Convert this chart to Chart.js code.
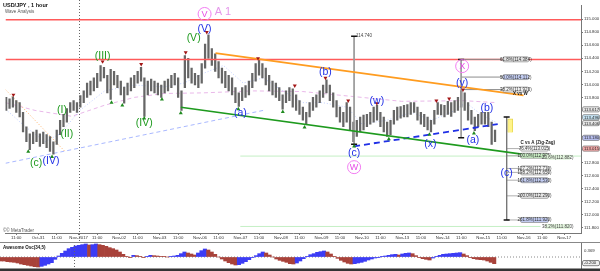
<!DOCTYPE html>
<html>
<head>
<meta charset="utf-8">
<script src="https://cdn.jsdelivr.net/npm/chart.js@4.4.1/dist/chart.umd.min.js"></script>
<style>
  html, body { margin: 0; padding: 0; background: #fff; }
  canvas { display: block; }
</style>
</head>
<body>
<canvas id="price" width="600" height="242"></canvas>
<canvas id="osc" width="600" height="29"></canvas>
<script>
// USD/JPY 1 hour. x = trading hours since Oct-30 00:00 (weekend removed)
var X_MIN = 4.6, X_MAX = 346;
var Y_MIN = 111.72, Y_MAX = 115.21;

var tickHours = [11, 24, 35, 48, 59, 72, 83, 96, 107, 120, 131, 144, 155, 168, 179, 192, 203, 216, 227, 240, 251, 264, 275, 288, 299, 312, 323, 336];
var tickLabels = ['11:00', 'Oct-31', '11:00', 'Nov-2017', '11:00', 'Nov-02', '11:00', 'Nov-03', '11:00', 'Nov-06', '11:00', 'Nov-07', '11:00', 'Nov-08',
  '11:00', 'Nov-09', '11:00', 'Nov-10', '11:00', 'Nov-13', '11:00', 'Nov-14', '11:00', 'Nov-15', '11:00', 'Nov-16', '11:00', 'Nov-17'];
var priceTicks = [111.8, 112.0, 112.2, 112.4, 112.6, 112.8, 113.0, 113.2, 113.4, 113.6, 113.8, 114.0, 114.2, 114.4, 114.6, 114.8, 115.0];
var monthStartHour = 48;

// price bars, one every 2 hours
var firstBarHour = 5, barStep = 2;
var barHighs = [113.80, 113.78, 113.81, 113.75, 113.72, 113.57, 113.35, 113.24, 113.27, 113.30, 113.24, 113.27, 113.23, 113.20, 113.12, 113.30,
  113.45, 113.54, 113.63, 113.72, 113.75, 113.72, 113.83, 113.90, 114.02, 114.05, 114.10, 114.17, 114.29, 114.26, 114.14, 114.23,
  114.20, 114.14, 114.05, 113.96, 114.02, 114.10, 114.14, 114.20, 114.26, 114.10, 114.05, 114.08, 114.05, 114.02, 113.99, 114.05,
  114.08, 114.14, 114.17, 114.10, 113.90, 114.44, 114.40, 114.25, 114.17, 114.14, 114.32, 114.62, 114.76, 114.55, 114.47, 114.35,
  114.25, 114.20, 114.14, 114.10, 113.95, 113.87, 113.95, 113.98, 114.05, 114.17, 114.32, 114.37, 114.32, 114.25, 114.14, 114.05,
  114.02, 113.95, 113.84, 113.90, 113.95, 113.93, 113.84, 113.75, 113.65, 113.57, 113.72, 113.80, 113.84, 113.90, 113.99, 114.07,
  113.99, 113.87, 113.75, 113.65, 113.57, 113.72, 113.65, 113.42, 113.45, 113.50, 113.53, 113.54, 113.57, 113.65, 113.68, 113.57,
  113.50, 113.42, 113.45, 113.60, 113.65, 113.66, 113.68, 113.69, 113.72, 113.72, 113.65, 113.57, 113.54, 113.50, 113.45, 113.60,
  113.72, 113.69, 113.68, 113.74, 113.72, 113.75, 113.80, 113.90, 113.87, 113.72, 113.60, 113.50, 113.54, 113.57, 113.57, 113.57,
  113.42, 113.30];
var barLows = [113.60, 113.63, 113.65, 113.57, 113.50, 113.27, 113.12, 113.00, 113.09, 113.12, 113.05, 113.09, 113.03, 112.97, 112.93, 113.08,
  113.23, 113.35, 113.42, 113.57, 113.60, 113.57, 113.65, 113.72, 113.80, 113.84, 113.90, 113.95, 114.05, 114.10, 113.87, 113.77,
  113.99, 113.95, 113.84, 113.71, 113.84, 113.90, 113.95, 114.02, 114.05, 113.51, 113.84, 113.90, 113.87, 113.84, 113.80, 113.87,
  113.90, 113.95, 113.99, 113.80, 113.60, 113.95, 114.10, 114.02, 113.99, 113.95, 114.02, 114.25, 114.40, 114.29, 114.20, 114.10,
  114.02, 113.95, 113.90, 113.84, 113.72, 113.66, 113.75, 113.80, 113.84, 113.95, 114.05, 114.14, 114.10, 113.99, 113.90, 113.84,
  113.80, 113.75, 113.62, 113.72, 113.75, 113.65, 113.60, 113.54, 113.45, 113.38, 113.50, 113.60, 113.65, 113.72, 113.80, 113.87,
  113.75, 113.65, 113.50, 113.42, 113.35, 113.42, 113.30, 113.12, 113.20, 113.27, 113.30, 113.35, 113.39, 113.42, 113.45, 113.35,
  113.27, 113.20, 113.23, 113.39, 113.45, 113.48, 113.50, 113.50, 113.54, 113.57, 113.45, 113.39, 113.35, 113.30, 113.27, 113.39,
  113.54, 113.53, 113.50, 113.54, 113.51, 113.57, 113.60, 113.65, 113.60, 113.45, 113.39, 113.29, 113.35, 113.39, 113.39, 113.35,
  113.08, 113.12];
// Awesome Oscillator (34,5), same bars
var aoValues = [-0.12, -0.12, -0.14, -0.15, -0.16, -0.18, -0.21, -0.23, -0.25, -0.27, -0.29, -0.30, -0.28, -0.25, -0.21, -0.17,
  -0.07, 0.03, 0.11, 0.18, 0.25, 0.29, 0.33, 0.35, 0.37, 0.39, 0.36, 0.37, 0.39, 0.37, 0.35, 0.32,
  0.28, 0.25, 0.21, 0.15, 0.08, 0.02, -0.02, 0.05, 0.04, 0.02, -0.02, 0.01, 0.05, 0.04, 0.03, 0.02,
  0.01, 0.00, 0.02, 0.03, 0.05, 0.10, 0.15, 0.12, 0.09, 0.06, 0.12, 0.19, 0.24, 0.21, 0.15, 0.08,
  0.00, -0.06, -0.12, -0.17, -0.21, -0.24, -0.23, -0.19, -0.14, -0.08, -0.02, 0.04, 0.10, 0.15, 0.12, 0.06,
  0.00, -0.06, -0.10, -0.13, -0.16, -0.20, -0.21, -0.18, -0.12, -0.05, 0.01, 0.07, 0.10, 0.14, 0.16, 0.18,
  0.15, 0.09, 0.02, -0.04, -0.10, -0.15, -0.19, -0.21, -0.20, -0.18, -0.16, -0.13, -0.09, -0.06, -0.03, -0.01,
  0.01, 0.03, 0.05, 0.07, 0.08, 0.06, 0.09, 0.11, 0.12, 0.10, 0.04, -0.02, -0.05, -0.07, -0.09, -0.03,
  0.01, 0.05, 0.08, 0.09, 0.10, 0.11, 0.12, 0.13, 0.09, 0.04, -0.02, -0.05, -0.07, -0.08, -0.09, -0.12,
  -0.16, -0.20];

// swing markers
var topHours = [9.3, 62.2, 85.1, 111.5, 124, 154.4, 176.2, 194.4, 207.9, 224.9, 260.2, 267.8, 276];
var topPrices = [113.84, 114.35, 114.31, 114.49, 114.80, 114.40, 113.98, 114.10, 113.75, 113.71, 113.75, 113.78, 113.92];
var bottomHours = [18.1, 32.2, 67.5, 73.9, 86.9, 97.4, 108.6, 142.7, 169.1, 182, 211.4, 232, 256.1, 282.5];
var bottomPrices = [112.97, 112.89, 113.72, 113.68, 113.48, 113.77, 113.56, 113.62, 113.58, 113.34, 113.05, 113.16, 113.23, 113.25];

// moving averages
var fastMaHours = [4.6, 16.4, 28.1, 36.9, 48.7, 63.4, 81, 98.6, 110.4, 122.1, 133.9, 145.6, 157.4, 169.1, 180.9, 192.6, 207.3, 216.1, 230.8, 245.5, 257.3, 269, 277.8, 286.6, 295.4];
var fastMa = [113.62, 113.35, 113.12, 113.24, 113.60, 113.90, 113.99, 113.96, 114.02, 114.17, 114.29, 114.02, 114.10, 113.90, 113.72, 113.72, 113.65, 113.39, 113.45, 113.57, 113.45, 113.57, 113.72, 113.54, 113.42];
var slowMaHours = [4.6, 22.2, 44, 63.4, 81, 98.6, 122.1, 151.5, 180.9, 204.4, 239.6, 276.6, 295.4];
var slowMa = [113.72, 113.60, 113.51, 113.68, 113.80, 113.86, 113.87, 113.90, 113.89, 113.83, 113.74, 113.75, 113.72];

// drawn lines
var redLevels = [114.99, 114.38];
var greenTrendHours = [108.6, 324.8], greenTrend = [113.65, 112.88];
var orangeTrendHours = [129.2, 311.9], orangeTrend = [114.48, 113.83];
var orangeDotHours = [4.6, 39.9], orangeDot = [113.92, 112.97];
var blueDashHours = [211.4, 296.6], blueDash = [113.05, 113.39];
var faintBlueHours = [4.6, 157.4], faintBlue = [112.79, 113.60];
var fibLevels = [112.90, 111.82], fibLevelStart = 143.9, fibLevelEnd = [346, 322];

// measuring tools
var measureHours = [211.4, 274.9, 301.9];
var measureTop = [114.74, 114.38, 113.50];
var measureBottom = [113.08, 113.18, 111.92];
var targetHour = 304, targetZone = [113.26, 113.47];

// fib labels
var topFibPct = ['61.8%', '50.0%', '38.2%'];
var topFibPrice = [114.384, 114.112, 113.920];
var topFibFill = ['#e6e6e6', '#c3cdf3', '#f4f4f4'];
var projPct = ['76.4%', '100.0%', '127.2%', '138.2%', '161.8%', '200.0%', '261.8%'];
var projPrice = [113.015, 112.905, 112.710, 112.650, 112.530, 112.290, 111.920];
var projFill = ['#f4f4f4', '#c9efc4', '#f4f4f4', '#f4f4f4', '#c3cdf3', '#e6e6e6', '#c3cdf3'];
var sidePct = ['23.6%', '38.2%'];
var sidePrice = [112.882, 111.820];

// wave counts
var GREEN = '#1e9a1e', BLUE = '#2030e6', PINK = '#e64de6';
var waveText = ['(c)', '(IV)', '(I)', '(II)', '(III)', '(IV)', '(V)', '(V)', '(a)', '(b)', '(c)', '(w)', '(x)', '(y)', '(a)', '(b)', '(c)'];
var waveHour = [22.8, 31.6, 38.1, 41, 62.2, 86.9, 116.2, 122.7, 143.9, 194.4, 211.4, 224.9, 256.7, 275.5, 281.9, 290.2, 301.9];
var wavePrice = [112.79, 112.82, 113.60, 113.24, 114.43, 113.41, 114.71, 114.85, 113.56, 114.19, 112.95, 113.75, 113.09, 114.02, 113.15, 113.63, 112.64];
var waveColor = [GREEN, BLUE, GREEN, GREEN, GREEN, GREEN, GREEN, BLUE, BLUE, BLUE, BLUE, BLUE, BLUE, BLUE, BLUE, BLUE, BLUE];
var circleText = ['V', 'W', 'X'];
var circleHour = [122.7, 211.4, 275.5];
var circlePrice = [115.08, 112.73, 114.28];

// price boxes on the right axis
var axisMarkPrice = [113.617, 113.496, 113.406, 113.180, 113.015];
var axisMarkFill = ['#e6e6e6', '#c5e3f3', '#e6e6e6', '#b8bff0', '#f2a8a8'];

Chart.defaults.font.family = '"Liberation Sans", Arial, sans-serif';

var barHours = barHighs.map(function (v, i) { return firstBarHour + i * barStep; });

function pts(hours, values) {
  return hours.map(function (h, i) { return { x: h, y: values[i] }; });
}

function lineSet(hours, values, color, width, dash, order) {
  return {
    type: 'line', data: pts(hours, values), borderColor: color, borderWidth: width,
    borderDash: dash || [], pointRadius: 0, fill: false, order: order || 3
  };
}

function box(ctx, x, y, w, h, fill, stroke) {
  ctx.beginPath();
  ctx.roundRect(x, y, w, h, 1.5);
  ctx.fillStyle = fill;
  ctx.fill();
  ctx.strokeStyle = stroke;
  ctx.lineWidth = 0.7;
  ctx.stroke();
}

function monthLine(chart) {
  var ctx = chart.ctx;
  var x = Math.round(chart.scales.x.getPixelForValue(monthStartHour)) + 0.5;
  ctx.save();
  ctx.strokeStyle = '#666';
  ctx.lineWidth = 1;
  ctx.setLineDash([1, 2]);
  ctx.beginPath();
  ctx.moveTo(x, 0);
  ctx.lineTo(x, chart.height);
  ctx.stroke();
  ctx.restore();
}

var priceAnnotations = {
  id: 'priceAnnotations',
  afterDatasetsDraw: function (chart) {
    var ctx = chart.ctx, xs = chart.scales.x, ys = chart.scales.y;
    var px = function (h) { return xs.getPixelForValue(h); };
    var py = function (p) { return ys.getPixelForValue(p); };
    monthLine(chart);
    ctx.save();
    ctx.textBaseline = 'middle';

    // wave counts
    ctx.textAlign = 'center';
    ctx.font = '10.5px "Liberation Sans"';
    waveText.forEach(function (t, i) {
      ctx.fillStyle = waveColor[i];
      ctx.fillText(t, px(waveHour[i]), py(wavePrice[i]));
    });
    circleText.forEach(function (t, i) {
      var x = px(circleHour[i]), y = py(circlePrice[i]);
      ctx.beginPath();
      ctx.arc(x, y, 6.5, 0, Math.PI * 2);
      ctx.strokeStyle = '#f27cf2';
      ctx.lineWidth = 1;
      ctx.stroke();
      ctx.fillStyle = PINK;
      ctx.font = '9px "Liberation Sans"';
      ctx.fillText(t, x, y + 0.5);
    });
    ctx.fillStyle = '#e596ea';
    ctx.font = '11px "Liberation Sans"';
    ctx.fillText('A 1', px(133.6), py(115.11));

    // fib boxes
    ctx.font = '4.5px "Liberation Sans"';
    topFibPct.forEach(function (t, i) {
      var y = py(topFibPrice[i]);
      box(ctx, px(299.6), y - 2.5, 26, 5, topFibFill[i], '#888');
      ctx.fillStyle = '#333';
      ctx.fillText(t + '(' + topFibPrice[i].toFixed(3) + ')', px(299.6) + 13, y + 0.3);
    });
    projPct.forEach(function (t, i) {
      var y = py(projPrice[i]);
      box(ctx, px(310.1), y - 2.5, 28, 5, projFill[i], '#888');
      ctx.fillStyle = '#333';
      ctx.fillText(t + '(' + projPrice[i].toFixed(3) + ')', px(310.1) + 14, y + 0.3);
    });
    sidePct.forEach(function (t, i) {
      var y = py(sidePrice[i]);
      ctx.fillStyle = 'rgba(225,245,220,0.9)';
      ctx.fillRect(px(324.8), y - 2.5, 25, 5);
      ctx.fillStyle = '#444';
      ctx.fillText(t + '(' + sidePrice[i].toFixed(3) + ')', px(324.8) + 12.5, y + 0.3);
    });
    ctx.textAlign = 'left';
    ctx.font = 'bold 4.5px "Liberation Sans"';
    ctx.fillStyle = '#222';
    ctx.fillText('C vs A (Zig-Zag)', px(310.1), py(113.105));
    ctx.fillText('X vs W', px(305.6), py(113.85));
    ctx.font = '4.5px "Liberation Sans"';
    ctx.fillStyle = '#444';
    ctx.fillText(measureTop[0].toFixed(3), px(measureHours[0]) + 2, py(measureTop[0]));

    // right axis price boxes
    ctx.textAlign = 'left';
    axisMarkPrice.forEach(function (p, i) {
      var y = py(p);
      box(ctx, chart.chartArea.right + 1.5, y - 2.6, 17, 5.2, axisMarkFill[i], '#777');
      ctx.fillStyle = '#222';
      ctx.font = '4.3px "Liberation Sans"';
      ctx.fillText(p.toFixed(3), chart.chartArea.right + 3, y + 0.3);
    });

    // titles
    ctx.fillStyle = '#111';
    ctx.font = 'bold 5.5px "Liberation Sans"';
    ctx.fillText('USD/JPY , 1 hour', 3, 5);
    ctx.fillStyle = '#555';
    ctx.font = '4.5px "Liberation Sans"';
    ctx.fillText('Wave Analysis', 5, 12);
    ctx.fillText('\u00a9\u00a9 MetaTrader', 3, 231);
    ctx.restore();
  }
};

var datasets = [
  { type: 'line', showLine: false, data: pts(topHours, topPrices), pointStyle: 'triangle', rotation: 180,
    pointRadius: 2.3, pointBackgroundColor: '#a31515', pointBorderColor: '#a31515', pointBorderWidth: 0, order: 1 },
  { type: 'line', showLine: false, data: pts(bottomHours, bottomPrices), pointStyle: 'triangle',
    pointRadius: 2.3, pointBackgroundColor: '#1f8a1f', pointBorderColor: '#1f8a1f', pointBorderWidth: 0, order: 1 },
  lineSet(greenTrendHours, greenTrend, '#1e9a1e', 1.6, null, 2),
  lineSet(orangeTrendHours, orangeTrend, '#ff9c1f', 1.8, null, 2),
  lineSet(blueDashHours, blueDash, '#2030e6', 1.8, [6, 4], 2),
  lineSet(orangeDotHours, orangeDot, '#ffb066', 1, [1, 2], 6),
  lineSet(faintBlueHours, faintBlue, 'rgba(140,160,255,0.75)', 1, [4, 3], 6),
  lineSet(fastMaHours, fastMa, 'rgba(150,175,255,0.6)', 1, [1, 2], 6),
  lineSet(slowMaHours, slowMa, 'rgba(225,160,225,0.75)', 1, [4, 3], 6),
  lineSet([X_MIN, X_MAX], [redLevels[0], redLevels[0]], '#ff5a5a', 1.5, null, 3),
  lineSet([X_MIN, X_MAX], [redLevels[1], redLevels[1]], '#ff5a5a', 1.5, null, 3),
  { type: 'bar', data: barHours.map(function (h, i) { return { x: h, y: [barLows[i], barHighs[i]] }; }),
    backgroundColor: '#666666', barThickness: 1.6, grouped: false, order: 4 },
  { type: 'bar', data: [{ x: targetHour, y: targetZone }], backgroundColor: '#fff38a', borderColor: '#e6d64f',
    borderWidth: 0.8, barThickness: 5, grouped: false, order: 3 }
];
fibLevels.forEach(function (p, i) {
  datasets.push(lineSet([fibLevelStart, fibLevelEnd[i]], [p, p], 'rgba(140,225,140,0.5)', 1, null, 7));
});
measureHours.forEach(function (h, i) {
  var set = lineSet([h, h], [measureTop[i], measureBottom[i]], i === 2 ? '#777' : '#9a9a9a', 1, null, 2);
  set.pointStyle = 'line';
  set.pointRadius = 3;
  set.pointBorderColor = '#111';
  set.pointBorderWidth = 1.5;
  datasets.push(set);
});
topFibPrice.forEach(function (p) {
  datasets.push(lineSet([measureHours[1], 299.6], [p, p], '#8c8c8c', 1, null, 2));
});
projPrice.forEach(function (p) {
  datasets.push(lineSet([measureHours[2], 310.1], [p, p], '#9a9a9a', 0.8, null, 2));
});

var priceChart = new Chart(document.getElementById('price').getContext('2d'), {
  type: 'bar',
  data: { datasets: datasets },
  options: {
    responsive: false,
    animation: false,
    devicePixelRatio: 1,
    events: [],
    layout: { padding: { top: 1, left: 0, right: 0, bottom: 0 } },
    plugins: { legend: { display: false }, tooltip: { enabled: false } },
    scales: {
      x: {
        type: 'linear', min: X_MIN, max: X_MAX, offset: false,
        afterBuildTicks: function (s) { s.ticks = tickHours.map(function (h) { return { value: h }; }); },
        afterFit: function (s) { s.height = 9; s.paddingLeft = 0; s.paddingRight = 0; },
        ticks: {
          autoSkip: false, maxRotation: 0, padding: 0.5, color: '#333',
          font: { size: 4.3 },
          callback: function (v, i) { return tickLabels[i]; }
        },
        grid: { drawOnChartArea: false, offset: false, tickLength: 2, color: '#777' },
        border: { color: '#777' }
      },
      y: {
        position: 'right', min: Y_MIN, max: Y_MAX,
        afterBuildTicks: function (s) { s.ticks = priceTicks.map(function (p) { return { value: p }; }); },
        afterFit: function (s) { s.width = 19; s.paddingTop = 0; s.paddingBottom = 0; },
        ticks: {
          padding: 1, color: '#333', font: { size: 4.3 },
          callback: function (v) { return v.toFixed(3); }
        },
        grid: { drawOnChartArea: false, tickLength: 2, color: '#777' },
        border: { color: '#777', dash: [1, 1] }
      }
    }
  },
  plugins: [priceAnnotations]
});

var oscAnnotations = {
  id: 'oscAnnotations',
  afterDatasetsDraw: function (chart) {
    var ctx = chart.ctx, a = chart.chartArea;
    monthLine(chart);
    ctx.save();
    ctx.strokeStyle = '#888';
    ctx.lineWidth = 1;
    ctx.beginPath();
    ctx.moveTo(0, 0.5);
    ctx.lineTo(chart.width, 0.5);
    ctx.stroke();
    ctx.fillStyle = '#333';
    ctx.fillRect(0, chart.height - 2.5, chart.width, 2.5);
    ctx.textBaseline = 'middle';
    ctx.textAlign = 'left';
    ctx.fillStyle = '#111';
    ctx.font = 'bold 4.5px "Liberation Sans"';
    ctx.fillText('Awesome Osc(34,5)', 3, 6);
    ctx.font = '4.3px "Liberation Sans"';
    ctx.fillStyle = '#333';
    ctx.fillText('0.369', a.right + 3, 9);
    var last = aoValues[aoValues.length - 1];
    box(ctx, a.right + 1.5, 18.5, 17, 5.2, '#eee', '#555');
    ctx.fillStyle = '#222';
    ctx.fillText(last.toFixed(3), a.right + 3, 21.3);
    ctx.restore();
  }
};

var aoColors = aoValues.map(function (v, i) {
  return i > 0 && v > aoValues[i - 1] ? '#3c3cf5' : '#a8423a';
});

var oscChart = new Chart(document.getElementById('osc').getContext('2d'), {
  type: 'bar',
  data: {
    datasets: [
      { type: 'line', data: pts([X_MIN, X_MAX], [0, 0]), borderColor: '#888', borderWidth: 1,
        borderDash: [1, 2], pointRadius: 0, order: 2 },
      { type: 'bar', data: pts(barHours, aoValues), backgroundColor: aoColors,
        categoryPercentage: 1, barPercentage: 1, grouped: false, order: 1 }
    ]
  },
  options: {
    responsive: false,
    animation: false,
    devicePixelRatio: 1,
    events: [],
    layout: { padding: { top: 1, left: 0, right: 0, bottom: 3 } },
    plugins: { legend: { display: false }, tooltip: { enabled: false } },
    scales: {
      x: { type: 'linear', min: X_MIN, max: X_MAX, offset: false, display: false },
      y: {
        position: 'right', min: -0.33, max: 0.42,
        afterFit: function (s) { s.width = 19; s.paddingTop = 0; s.paddingBottom = 0; },
        ticks: { display: false },
        grid: { drawOnChartArea: false, tickLength: 0 },
        border: { color: '#777', dash: [1, 1] }
      }
    }
  },
  plugins: [oscAnnotations]
});
</script>
</body>
</html>
